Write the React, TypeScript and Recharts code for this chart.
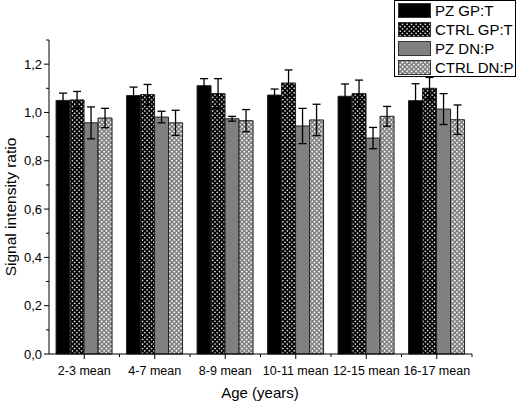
import React from 'react';
import { BarChart, Bar, XAxis, YAxis, ErrorBar, Label } from 'recharts';

const AGE_GROUPS = ['2-3 mean', '4-7 mean', '8-9 mean', '10-11 mean', '12-15 mean', '16-17 mean'];

const PZ_GP = [1.05, 1.07, 1.111, 1.072, 1.067, 1.049];
const PZ_GP_ERR = [0.03, 0.035, 0.029, 0.025, 0.051, 0.07];
const CTRL_GP = [1.052, 1.074, 1.078, 1.122, 1.078, 1.1];
const CTRL_GP_ERR = [0.035, 0.042, 0.062, 0.054, 0.056, 0.045];
const PZ_DN = [0.957, 0.981, 0.974, 0.944, 0.894, 1.014];
const PZ_DN_ERR = [0.066, 0.024, 0.01, 0.073, 0.044, 0.064];
const CTRL_DN = [0.977, 0.957, 0.966, 0.969, 0.984, 0.97];
const CTRL_DN_ERR = [0.04, 0.052, 0.046, 0.065, 0.041, 0.061];

const Y_TICKS = [0, 0.1, 0.2, 0.3, 0.4, 0.5, 0.6, 0.7, 0.8, 0.9, 1.0, 1.1, 1.2, 1.3];

const SERIES = [
  { key: 'pzGp', name: 'PZ GP:T', fill: '#000000' },
  { key: 'ctrlGp', name: 'CTRL GP:T', fill: 'url(#crossDark)' },
  { key: 'pzDn', name: 'PZ DN:P', fill: '#808080' },
  { key: 'ctrlDn', name: 'CTRL DN:P', fill: 'url(#crossLight)' },
];

const data = AGE_GROUPS.map((age, i) => ({
  age,
  pzGp: PZ_GP[i],
  pzGpErr: PZ_GP_ERR[i],
  ctrlGp: CTRL_GP[i],
  ctrlGpErr: CTRL_GP_ERR[i],
  pzDn: PZ_DN[i],
  pzDnErr: PZ_DN_ERR[i],
  ctrlDn: CTRL_DN[i],
  ctrlDnErr: CTRL_DN_ERR[i],
}));

const FONT = '"Liberation Sans", Arial, sans-serif';

// major ticks every 0.2 get a label, the ones between are short and bare
const YTick = (props: any) => {
  const { x, y, payload } = props;
  const v = payload.value as number;
  const major = Math.round(v * 10) % 2 === 0;
  return (
    <g>
      <line x1={x - (major ? 5 : 3)} x2={x} y1={y} y2={y} stroke="#000" strokeWidth={1} />
      {major && (
        <text x={x - 7} y={y} dy="0.355em" textAnchor="end" fontSize={13} fontFamily={FONT} fill="#000">
          {v.toFixed(1).replace('.', ',')}
        </text>
      )}
    </g>
  );
};

const XTick = (props: any) => {
  const { x, y, payload, width } = props;
  const half = payload.offset || width / AGE_GROUPS.length / 2;
  return (
    <g>
      <line x1={x} x2={x} y1={y} y2={y + 5} stroke="#000" strokeWidth={1} />
      <line x1={x + half} x2={x + half} y1={y} y2={y + 3} stroke="#000" strokeWidth={1} />
      <text x={x} y={y + 21} textAnchor="middle" fontSize={12.5} fontFamily={FONT} fill="#000">
        {payload.value}
      </text>
    </g>
  );
};

const Patterns = () => (
  <svg width={0} height={0} style={{ position: 'absolute' }}>
    <defs>
      <pattern id="crossDark" patternUnits="userSpaceOnUse" width={3.2} height={3.2} patternTransform="rotate(45)">
        <rect width={3.2} height={3.2} fill="#000" />
        <rect x={1} y={1} width={1.4} height={1.4} fill="#fff" />
      </pattern>
      <pattern id="crossLight" patternUnits="userSpaceOnUse" width={3.2} height={3.2} patternTransform="rotate(45)">
        <rect width={3.2} height={3.2} fill="#7a7a7a" />
        <rect x={0.8} y={0.8} width={1.8} height={1.8} fill="#f4f4f4" />
      </pattern>
    </defs>
  </svg>
);

const LegendBox = () => (
  <div
    style={{
      position: 'absolute',
      left: 394,
      top: 0,
      width: 122,
      height: 77,
      border: '1px solid #000',
      background: '#fff',
      boxSizing: 'border-box',
      fontFamily: FONT,
      fontSize: 15,
    }}
  >
    {SERIES.map((s) => (
      <div key={s.key} style={{ display: 'flex', alignItems: 'center', height: 19 }}>
        <svg width={36} height={15} style={{ marginLeft: 3, flex: 'none' }}>
          <rect x={0.5} y={0.5} width={32} height={14} fill={s.fill} stroke="#333" strokeWidth={1} />
        </svg>
        <span style={{ marginLeft: 1, lineHeight: '19px', whiteSpace: 'nowrap' }}>{s.name}</span>
      </div>
    ))}
  </div>
);

export default function App() {
  return (
    <div style={{ position: 'absolute', left: 0, top: 0, width: 520, height: 403, background: '#fff' }}>
      <Patterns />
      <BarChart
        width={520}
        height={403}
        data={data}
        margin={{ top: 40, right: 48, left: 0, bottom: 0 }}
        barCategoryGap="10%"
        barGap={0}
      >
        <XAxis
          dataKey="age"
          height={49}
          stroke="#000"
          tickLine={false}
          tickSize={0}
          tickMargin={0}
          tick={<XTick />}
          interval={0}
        >
          <Label
            content={() => (
              <text x={260} y={398} textAnchor="middle" fontSize={15} fontFamily={FONT} fill="#000">
                Age (years)
              </text>
            )}
          />
        </XAxis>
        <YAxis
          width={49}
          domain={[0, 1.3]}
          ticks={Y_TICKS}
          interval={0}
          stroke="#000"
          tickLine={false}
          tickSize={0}
          tickMargin={0}
          tick={<YTick />}
        >
          <Label
            content={() => (
              <text
                x={16}
                y={207}
                transform="rotate(-90, 16, 207)"
                textAnchor="middle"
                fontSize={15.5}
                fontFamily={FONT}
                fill="#000"
              >
                Signal intensity ratio
              </text>
            )}
          />
        </YAxis>
        {SERIES.map((s) => (
          <Bar key={s.key} dataKey={s.key} name={s.name} fill={s.fill} stroke="#222" strokeWidth={1} isAnimationActive={false}>
            <ErrorBar dataKey={`${s.key}Err`} width={4} stroke="#000" strokeWidth={1.3} direction="y" />
          </Bar>
        ))}
      </BarChart>
      <LegendBox />
    </div>
  );
}
